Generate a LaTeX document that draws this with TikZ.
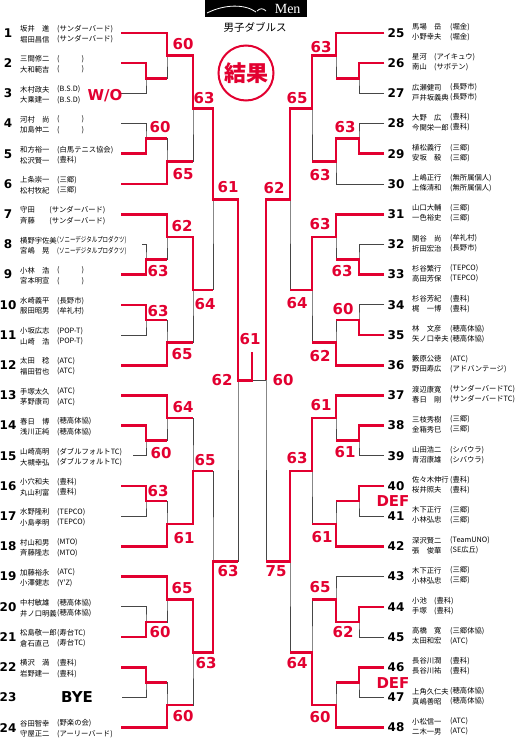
\documentclass[tikz,border=0pt]{standalone}
\usepackage{fontspec}
\setmainfont{DejaVu Sans}
\newfontfamily\jpfont{Noto Sans CJK JP}
\newfontfamily\menfont{Liberation Serif}
\usetikzlibrary{positioning}
\definecolor{kekkared}{RGB}{226,0,48}
\definecolor{linegray}{RGB}{70,70,70}

\begin{document}
\begin{tikzpicture}[x=1pt,y=-1pt,
    win/.style={draw=kekkared,line width=2.6pt},
    lose/.style={draw=linegray,line width=0.7pt},
    score/.style={text=kekkared,font=\bfseries\fontsize{15}{15}\selectfont,inner sep=0pt},
    seed/.style={font=\bfseries\fontsize{12}{12}\selectfont,inner sep=0pt},
    player/.style={font=\jpfont\fontsize{7.3}{8}\selectfont,anchor=west,inner sep=0pt}
  ]
  \useasboundingbox (0,0) rectangle (519,738);

  % title block
  \fill[black] (205,0) rectangle (307,17);
  \draw[white,line width=0.8pt] (207,13) .. controls (225,4) and (245,4) .. (256,12);
  \draw[white,line width=0.8pt] (257,11) .. controls (260,8) and (263,8) .. (266,11);
  \node[text=white,font=\menfont\fontsize{14}{14}\selectfont,anchor=east] (men) at (304,9) {Men};
  \node[font=\jpfont\fontsize{10.5}{11}\selectfont] (title) at (255,27) {男子ダブルス};
  \node[draw=kekkared,line width=2pt,circle,minimum size=55pt,inner sep=0pt,
    text=kekkared,font=\jpfont\bfseries\fontsize{22}{22}\selectfont] (kekka) at (246,73) {結果};

  % left half
  \foreach \n/\nameA/\teamA/\nameB/\teamB in {
      1/坂井　進/(サンダーバード)/堀田昌信/(サンダーバード),
      2/三間修二/(　　　)/大和範吉/(　　　),
      3/木村政夫/(B.S.D)/大乗建一/(B.S.D),
      4/河村　尚/(　　　)/加島伸二/(　　　),
      5/和方裕一/(白馬テニス協会)/松沢賢一/(豊科),
      6/上条崇一/(三郷)/松村牧紀/(三郷),
      7/守田　　(サンダーバード)/{}/斉藤　　(サンダーバード)/{},
      8/横野宇佐美/{\scalebox{0.75}[1]{(ソニーデジタルプロダクツ)}}/宮嶋　晃/{\scalebox{0.75}[1]{(ソニーデジタルプロダクツ)}},
      9/小林　浩/(　　　)/宮本明宣/(　　　),
      10/水崎義平/(長野市)/服田昭男/(牟礼村),
      11/小坂広志/(POP-T)/山崎　浩/(POP-T),
      12/太田　稔/(ATC)/福田哲也/(ATC),
      13/手塚太久/(ATC)/茅野康司/(ATC),
      14/春日　博/(穂高体協)/浅川正純/(穂高体協),
      15/山崎高明/(ダブルフォルトTC)/大槻幸弘/(ダブルフォルトTC),
      16/小穴和夫/(豊科)/丸山利富/(豊科),
      17/水野隆利/(TEPCO)/小島孝明/(TEPCO),
      18/村山和男/(MTO)/斉藤隆志/(MTO),
      19/加藤裕永/(ATC)/小澤健志/(Y'Z),
      20/中村敏雄/(穂高体協)/井ノ口明義/(穂高体協),
      21/松島敬一郎/(寿台TC)/倉石直己/(寿台TC),
      22/横沢　満/(豊科)/岩野建一/(豊科),
      24/谷田智幸/(野楽の会)/守屋正二/(アーリーバード)}{
    \pgfmathsetmacro{\yy}{33+(\n-1)*30.2}
    \node[seed] (s\n) at (8,\yy) {\n};
    \node[player] (na\n) at (20,\yy-4) {\nameA};
    \node[player] (ta\n) at (57,\yy-4) {\teamA};
    \node[player] (nb\n) at (20,\yy+6.5) {\nameB};
    \node[player] (tb\n) at (57,\yy+6.5) {\teamB};
    \coordinate (p\n) at (121,\yy);
  }
  \node[seed] (s23) at (8,697.4) {23};
  \node[font=\bfseries\fontsize{15}{15}\selectfont,inner sep=0pt] (bye) at (77,697) {BYE};
  \coordinate (p23) at (122,697.4);
  \coordinate (p8) at (142,244.4);
  \coordinate (p15) at (133,455.8);

  % right half
  \foreach \n/\nameA/\teamA/\nameB/\teamB in {
      25/馬場　岳/(堀金)/小野幸夫/(堀金),
      26/星河　(アイキュウ)/{}/南山　(サボテン)/{},
      27/広瀬健司/(長野市)/戸井坂義典/(長野市),
      28/大野　広/(豊科)/今関栄一郎/(豊科),
      29/植松義行/(三郷)/安坂　毅/(三郷),
      30/上嶋正行/(無所属個人)/上條清和/(無所属個人),
      31/山口大輔/(三郷)/一色裕史/(三郷),
      32/関谷　尚/(牟礼村)/折田宏治/(長野市),
      33/杉谷繁行/(TEPCO)/高田芳保/(TEPCO),
      34/杉谷芳紀/(豊科)/梶　一博/(豊科),
      35/林　文彦/(穂高体協)/矢ノ口幸夫/(穂高体協),
      36/籔原公徳/(ATC)/野田寿広/(アドバンテージ),
      37/渡辺康寛/(サンダーバードTC)/春日　剛/(サンダーバードTC),
      38/三枝秀樹/(三郷)/金箱秀巳/(三郷),
      39/山田浩二/(シバウラ)/青沼康雄/(シバウラ),
      40/佐々木伸行/(豊科)/桜井照夫/(豊科),
      41/木下正行/(三郷)/小林弘忠/(三郷),
      42/深沢賢二/(TeamUNO)/張　俊華/(SE広丘),
      43/木下正行/(三郷)/小林弘忠/(三郷),
      44/小池　(豊科)/{}/手塚　(豊科)/{},
      45/高橋　寛/(三郷体協)/太田和宏/(ATC),
      46/長谷川潤/(豊科)/長谷川祐/(豊科),
      47/上角久仁夫/(穂高体協)/真嶋善昭/(穂高体協),
      48/小松信一/(ATC)/二木一男/(ATC)}{
    \pgfmathsetmacro{\yy}{33+(\n-25)*30.2}
    \node[seed] (s\n) at (396,\yy) {\n};
    \node[player] (na\n) at (412,\yy-6) {\nameA};
    \node[player] (ta\n) at (450,\yy-6) {\teamA};
    \node[player] (nb\n) at (412,\yy+4) {\nameB};
    \node[player] (tb\n) at (450,\yy+4) {\teamB};
    \coordinate (p\n) at (384,\yy);
  }

  % junctions
  \foreach \sd/\xa/\xb/\xc/\xd/\xe in {L/146/167/193/213/238,R/359/336/312/290/266}{
    \coordinate (\sd a1) at (\xa,78.3);  \coordinate (\sd a2) at (\xa,138.7);
    \coordinate (\sd a3) at (\xa,259.5); \coordinate (\sd a4) at (\xa,319.9);
    \coordinate (\sd a5) at (\xa,440.7); \coordinate (\sd a6) at (\xa,501.1);
    \coordinate (\sd a7) at (\xa,621.9); \coordinate (\sd a8) at (\xa,682.3);
    \coordinate (\sd b1) at (\xb,55.6);  \coordinate (\sd b2) at (\xb,161.4);
    \coordinate (\sd b3) at (\xb,236.9); \coordinate (\sd b4) at (\xb,342.6);
    \coordinate (\sd b5) at (\xb,418.1); \coordinate (\sd b6) at (\xb,523.8);
    \coordinate (\sd b7) at (\xb,599.3); \coordinate (\sd b8) at (\xb,705);
    \coordinate (\sd c1) at (\xc,108.5); \coordinate (\sd c2) at (\xc,289.8);
    \coordinate (\sd c3) at (\xc,471);   \coordinate (\sd c4) at (\xc,652.2);
    \coordinate (\sd d1) at (\xd,199.2); \coordinate (\sd d2) at (\xd,561.6);
    \coordinate (\sd e1) at (\xe,380.4);
  }
  \coordinate (fin) at (252,380.4);
  \coordinate (top) at (252,352);

  % grey frame of every match
  \foreach \sd/\blk/\first in {L/1/0,L/2/6,L/3/12,L/4/18,R/1/24,R/2/30,R/3/36,R/4/42}{
    \pgfmathtruncatemacro{\ea}{\first+1}
    \pgfmathtruncatemacro{\eb}{\first+2}
    \pgfmathtruncatemacro{\ec}{\first+3}
    \pgfmathtruncatemacro{\ed}{\first+4}
    \pgfmathtruncatemacro{\ee}{\first+5}
    \pgfmathtruncatemacro{\ef}{\first+6}
    \pgfmathtruncatemacro{\mA}{2*\blk-1}
    \pgfmathtruncatemacro{\mB}{2*\blk}
    \draw[lose] (p\eb) -| (\sd a\mA) |- (p\ec);
    \draw[lose] (p\ea) -| (\sd b\mA) |- (\sd a\mA);
    \draw[lose] (p\ed) -| (\sd a\mB) |- (p\ee);
    \draw[lose] (\sd a\mB) -| (\sd b\mB) |- (p\ef);
    \draw[lose] (\sd b\mA) -| (\sd c\blk) |- (\sd b\mB);
  }
  \foreach \sd in {L,R}{
    \draw[lose] (\sd c1) -| (\sd d1) |- (\sd c2);
    \draw[lose] (\sd c3) -| (\sd d2) |- (\sd c4);
    \draw[lose] (\sd d1) -| (\sd e1) |- (\sd d2);
  }
  \draw[lose] (Re1) -- (fin);

  % winners, left
  \draw[win] (p1) -| (Lb1) -| (Lc1) -| (Ld1) -| (Le1) -- (fin) -- (top);
  \draw[win] (p2) -| (La1) -- (La1 -| Lb1);
  \draw[win] (p5) -| (La2) -- (La2 -| Lb2);
  \draw[win] (p6) -| (Lb2) -- (Lb2 -| Lc1);
  \draw[win] (p7) -| (Lb3) -| (Lc2) -- (Lc2 -| Ld1);
  \draw[win] (p9) -| (La3) -- (La3 -| Lb3);
  \draw[win] (p10) -| (La4) -- (La4 -| Lb4);
  \draw[win] (p12) -| (Lb4) -- (Lb4 -| Lc2);
  \draw[win] (p13) -| (Lb5) -- (Lb5 -| Lc3);
  \draw[win] (p14) -| (La5) -- (La5 -| Lb5);
  \draw[win] (p16) -| (La6) -- (La6 -| Lb6);
  \draw[win] (p18) -| (Lb6) -| (Lc3) -- (Lc3 -| Ld2);
  \draw[win] (p19) -| (Lb7) -| (Lc4) -| (Ld2) -- (Ld2 -| Le1);
  \draw[win] (p21) -| (La7) -- (La7 -| Lb7);
  \draw[win] (p22) -| (La8) -- (La8 -| Lb8);
  \draw[win] (p24) -| (Lb8) -- (Lb8 -| Lc4);

  % winners, right
  \draw[win] (p25) -| (Rb1) -| (Rc1) -| (Rd1) -| (Re1);
  \draw[win] (p26) -| (Ra1) -- (Ra1 -| Rb1);
  \draw[win] (p29) -| (Ra2) -| (Rb2) -- (Rb2 -| Rc1);
  \draw[win] (p31) -| (Rb3) -| (Rc2) -- (Rc2 -| Rd1);
  \draw[win] (p33) -| (Ra3) -- (Ra3 -| Rb3);
  \draw[win] (p35) -| (Ra4) -- (Ra4 -| Rb4);
  \draw[win] (p36) -| (Rb4) -- (Rb4 -| Rc2);
  \draw[win] (p37) -| (Rb5) -| (Rc3) -| (Rd2) -- (Rd2 -| Re1);
  \draw[win] (p38) -| (Ra5) -- (Ra5 -| Rb5);
  \draw[win] (p40) -| (Ra6) -- (Ra6 -| Rb6);
  \draw[win] (p42) -| (Rb6) -- (Rb6 -| Rc3);
  \draw[win] (p44) -| (Ra7) -| (Rb7) -- (Rb7 -| Rc4);
  \draw[win] (p46) -| (Ra8) -- (Ra8 -| Rb8);
  \draw[win] (p48) -| (Rb8) -| (Rc4) -- (Rc4 -| Rd2);

  % scores
  \node[score] (wo) at (105,95.5) {W/O};
  \node[score] (sLa2) at (160,127) {60};
  \node[score] (sLb1) at (183,44) {60};
  \node[score] (sLc1) at (204,98) {63};
  \node[score] (sLb2) at (183,174) {65};
  \node[score] (sLd1) at (228,187) {61};
  \node[score] (sLb3) at (182,226) {62};
  \node[score] (sLa3) at (158,271) {63};
  \node[score] (sLc2) at (205,304) {64};
  \node[score] (sLa4) at (158,311) {63};
  \node[score] (sLb4) at (182,354) {65};
  \node[score] (sFin) at (250,339) {61};
  \node[score] (sLe1) at (222,380) {62};
  \node[score] (sLb5) at (183,407) {64};
  \node[score] (sLa5) at (161,453) {60};
  \node[score] (sLc3) at (205,460) {65};
  \node[score] (sLa6) at (158,491) {63};
  \node[score] (sLb6) at (184,538) {61};
  \node[score] (sLd2) at (228,571) {63};
  \node[score] (sLb7) at (182,588) {65};
  \node[score] (sLa7) at (160,632) {60};
  \node[score] (sLc4) at (206,663) {63};
  \node[score] (sLb8) at (183,716) {60};
  \node[score] (sRb1) at (321,47) {63};
  \node[score] (sRc1) at (297,98) {65};
  \node[score] (sRa2) at (345,127) {63};
  \node[score] (sRb2) at (320,175) {63};
  \node[score] (sRd1) at (274,188) {62};
  \node[score] (sRb3) at (320,224) {63};
  \node[score] (sRa3) at (342,271) {63};
  \node[score] (sRc2) at (297,303) {64};
  \node[score] (sRa4) at (343,309) {60};
  \node[score] (sRb4) at (320,356) {62};
  \node[score] (sRe1) at (283,380) {60};
  \node[score] (sRb5) at (321,405) {61};
  \node[score] (sRa5) at (345,452) {61};
  \node[score] (sRc3) at (297,458) {63};
  \node[score] (def1) at (393,501) {DEF};
  \node[score] (sRb6) at (322,537) {61};
  \node[score] (sRd2) at (276,571) {75};
  \node[score] (sRb7) at (320,587) {65};
  \node[score] (sRa7) at (343,632) {62};
  \node[score] (sRc4) at (297,663) {64};
  \node[score] (def2) at (393,683) {DEF};
  \node[score] (sRb8) at (320,717) {60};
\end{tikzpicture}
\end{document}
